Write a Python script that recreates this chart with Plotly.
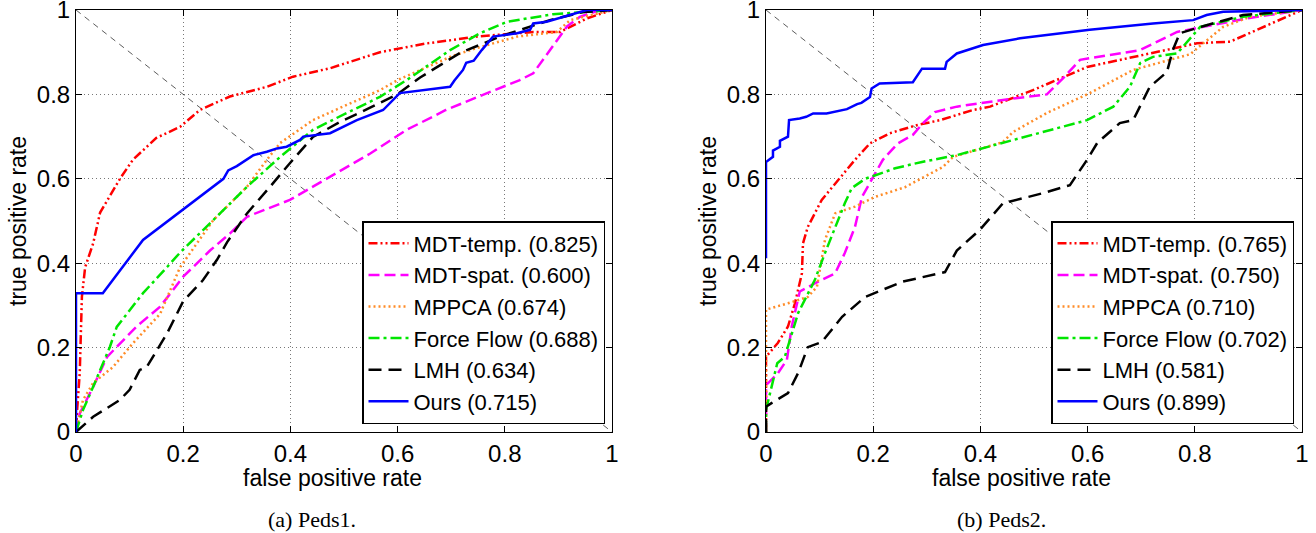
import plotly.graph_objects as go
from plotly.subplots import make_subplots

# ---- Peds1 (left) ----
p1_temp_x = [0, 0.002, 0.007, 0.011, 0.017, 0.032, 0.045, 0.065, 0.082, 0.106, 0.15, 0.194, 0.231, 0.287, 0.356, 0.405, 0.474, 0.567, 0.65, 0.748, 0.853, 0.903, 0.953, 1]
p1_temp_y = [0, 0.05, 0.14, 0.32, 0.39, 0.447, 0.52, 0.565, 0.6, 0.645, 0.697, 0.723, 0.763, 0.795, 0.818, 0.842, 0.862, 0.9, 0.92, 0.937, 0.948, 0.948, 0.98, 1]

p1_spat_x = [0, 0.007, 0.032, 0.058, 0.113, 0.157, 0.2, 0.25, 0.287, 0.319, 0.399, 0.474, 0.549, 0.617, 0.69, 0.767, 0.828, 0.853, 0.871, 0.897, 0.916, 0.94, 0.978, 1]
p1_spat_y = [0, 0.044, 0.107, 0.178, 0.25, 0.297, 0.368, 0.43, 0.47, 0.51, 0.55, 0.605, 0.66, 0.716, 0.763, 0.803, 0.834, 0.85, 0.882, 0.929, 0.961, 0.984, 1, 1]

p1_mppca_x = [0, 0.013, 0.032, 0.069, 0.106, 0.157, 0.194, 0.256, 0.319, 0.356, 0.381, 0.442, 0.505, 0.567, 0.6, 0.7, 0.748, 0.823, 0.897, 0.922, 1]
p1_mppca_y = [0, 0.076, 0.116, 0.154, 0.21, 0.28, 0.39, 0.502, 0.581, 0.645, 0.685, 0.739, 0.775, 0.81, 0.834, 0.89, 0.91, 0.937, 0.948, 0.976, 1]

p1_ff_x = [0, 0.013, 0.032, 0.063, 0.076, 0.125, 0.17, 0.194, 0.256, 0.319, 0.381, 0.442, 0.505, 0.567, 0.617, 0.698, 0.754, 0.804, 0.89, 1]
p1_ff_y = [0, 0.052, 0.107, 0.201, 0.249, 0.329, 0.391, 0.425, 0.502, 0.581, 0.652, 0.716, 0.756, 0.794, 0.834, 0.905, 0.945, 0.972, 0.99, 1]

p1_lmh_x = [0, 0.032, 0.082, 0.1, 0.119, 0.132, 0.17, 0.2, 0.237, 0.263, 0.282, 0.319, 0.362, 0.399, 0.442, 0.493, 0.543, 0.599, 0.642, 0.716, 0.791, 0.884, 0.946, 1]
p1_lmh_y = [0, 0.036, 0.076, 0.1, 0.147, 0.154, 0.234, 0.31, 0.36, 0.408, 0.45, 0.518, 0.581, 0.637, 0.699, 0.735, 0.765, 0.8, 0.84, 0.898, 0.937, 0.976, 0.995, 1]

p1_ours_x = [0, 0, 0.05, 0.125, 0.275, 0.284, 0.3, 0.331, 0.356, 0.375, 0.393, 0.418, 0.424, 0.474, 0.524, 0.573, 0.604, 0.698, 0.706, 0.722, 0.728, 0.742, 0.757, 0.778, 0.823, 0.847, 0.853, 0.878, 0.953, 1]
p1_ours_y = [0, 0.329, 0.329, 0.455, 0.6, 0.62, 0.63, 0.656, 0.664, 0.672, 0.676, 0.692, 0.7, 0.708, 0.739, 0.763, 0.803, 0.818, 0.833, 0.858, 0.875, 0.88, 0.905, 0.937, 0.945, 0.953, 0.968, 0.972, 1, 1]

# ---- Peds2 (right) ----
p2_temp_x = [0, 0, 0.022, 0.041, 0.054, 0.067, 0.069, 0.078, 0.104, 0.134, 0.166, 0.194, 0.231, 0.281, 0.325, 0.386, 0.418, 0.498, 0.599, 0.716, 0.804, 0.866, 0.916, 1]
p2_temp_y = [0, 0.178, 0.211, 0.25, 0.305, 0.376, 0.447, 0.486, 0.55, 0.597, 0.645, 0.684, 0.708, 0.727, 0.739, 0.763, 0.771, 0.81, 0.865, 0.897, 0.921, 0.925, 0.953, 1]

p2_spat_x = [0, 0, 0.022, 0.039, 0.048, 0.063, 0.091, 0.129, 0.147, 0.166, 0.179, 0.194, 0.218, 0.246, 0.274, 0.293, 0.315, 0.356, 0.442, 0.524, 0.554, 0.586, 0.698, 0.767, 0.897, 1]
p2_spat_y = [0, 0.111, 0.139, 0.171, 0.25, 0.333, 0.352, 0.376, 0.424, 0.486, 0.557, 0.59, 0.645, 0.684, 0.704, 0.732, 0.758, 0.771, 0.787, 0.8, 0.838, 0.882, 0.905, 0.948, 0.98, 1]

p2_mppca_x = [0, 0, 0.041, 0.078, 0.095, 0.11, 0.129, 0.166, 0.203, 0.259, 0.33, 0.349, 0.442, 0.461, 0.524, 0.604, 0.685, 0.791, 0.853, 0.903, 1]
p2_mppca_y = [0, 0.29, 0.305, 0.32, 0.344, 0.455, 0.518, 0.534, 0.557, 0.58, 0.628, 0.652, 0.687, 0.711, 0.756, 0.803, 0.858, 0.895, 0.96, 0.984, 1]

p2_ff_x = [0, 0, 0.021, 0.035, 0.06, 0.091, 0.11, 0.129, 0.147, 0.16, 0.185, 0.241, 0.291, 0.356, 0.442, 0.535, 0.599, 0.648, 0.679, 0.698, 0.722, 0.767, 0.81, 0.89, 1]
p2_ff_y = [0, 0.052, 0.163, 0.178, 0.282, 0.36, 0.424, 0.486, 0.542, 0.578, 0.6, 0.625, 0.64, 0.656, 0.685, 0.716, 0.739, 0.771, 0.818, 0.874, 0.889, 0.897, 0.96, 0.984, 1]

p2_lmh_x = [0, 0, 0.011, 0.041, 0.06, 0.078, 0.104, 0.142, 0.185, 0.216, 0.254, 0.334, 0.356, 0.399, 0.442, 0.517, 0.567, 0.599, 0.618, 0.66, 0.685, 0.716, 0.748, 0.759, 0.772, 0.822, 0.89, 1]
p2_lmh_y = [0, 0.06, 0.069, 0.092, 0.14, 0.201, 0.213, 0.273, 0.32, 0.336, 0.356, 0.379, 0.43, 0.479, 0.542, 0.566, 0.585, 0.645, 0.685, 0.732, 0.739, 0.818, 0.853, 0.905, 0.945, 0.964, 0.988, 1]

p2_ours_x = [0, 0, 0.013, 0.013, 0.026, 0.026, 0.041, 0.043, 0.063, 0.075, 0.088, 0.113, 0.151, 0.17, 0.178, 0.194, 0.197, 0.212, 0.274, 0.291, 0.334, 0.337, 0.356, 0.405, 0.474, 0.604, 0.722, 0.797, 0.822, 0.853, 1]
p2_ours_y = [0.412, 0.64, 0.652, 0.667, 0.676, 0.69, 0.7, 0.739, 0.743, 0.747, 0.755, 0.755, 0.765, 0.777, 0.78, 0.794, 0.814, 0.826, 0.829, 0.861, 0.861, 0.877, 0.897, 0.917, 0.933, 0.953, 0.968, 0.976, 0.988, 0.996, 1]

diag_x = [0, 1]
diag_y = [1, 0]

tick_vals = [0, 0.2, 0.4, 0.6, 0.8, 1]
tick_text = ['0', '0.2', '0.4', '0.6', '0.8', '1']

names1 = ['MDT-temp. (0.825)', 'MDT-spat. (0.600)', 'MPPCA (0.674)', 'Force Flow (0.688)', 'LMH (0.634)', 'Ours (0.715)']
names2 = ['MDT-temp. (0.765)', 'MDT-spat. (0.750)', 'MPPCA (0.710)', 'Force Flow (0.702)', 'LMH (0.581)', 'Ours (0.899)']

styles = [
    dict(color='#ff0000', dash='9px,3px,2px,3px,2px,3px', width=2.5),
    dict(color='#ff00ff', dash='11px,5px', width=2.5),
    dict(color='#ff8c28', dash='2px,3px', width=2.5),
    dict(color='#00e600', dash='11px,4px,3px,4px', width=2.5),
    dict(color='#000000', dash='13px,7px', width=2.5),
    dict(color='#0000ff', dash='solid', width=2.5),
]

series1 = [(p1_temp_x, p1_temp_y), (p1_spat_x, p1_spat_y), (p1_mppca_x, p1_mppca_y),
           (p1_ff_x, p1_ff_y), (p1_lmh_x, p1_lmh_y), (p1_ours_x, p1_ours_y)]
series2 = [(p2_temp_x, p2_temp_y), (p2_spat_x, p2_spat_y), (p2_mppca_x, p2_mppca_y),
           (p2_ff_x, p2_ff_y), (p2_lmh_x, p2_lmh_y), (p2_ours_x, p2_ours_y)]

W, H = 1316, 533
ML, MR, MT, MB = 76, 14, 10, 533 - 432
pw = W - ML - MR
ph = H - MT - MB


def px(x):
    return (x - ML) / pw


def py(y):
    return (H - MB - y) / ph


fig = make_subplots(rows=1, cols=2, horizontal_spacing=(766 - 612) / pw)

for col, series, names, leg in [(1, series1, names1, 'legend'), (2, series2, names2, 'legend2')]:
    fig.add_trace(go.Scatter(x=diag_x, y=diag_y, mode='lines', showlegend=False, hoverinfo='skip',
                             line=dict(color='#333333', width=0.8, dash='6px,5px')), row=1, col=col)
    for (xs, ys), name, st in zip(series, names, styles):
        fig.add_trace(go.Scatter(x=xs, y=ys, mode='lines', name=name, legend=leg, line=st),
                      row=1, col=col)

font = 'Liberation Sans, Arial, sans-serif'
axis_common = dict(range=[0, 1], tickvals=tick_vals, ticktext=tick_text, ticklabeloverflow='allow',
                   showline=True, linecolor='black', linewidth=1, mirror='ticks', ticks='inside', ticklen=6,
                   tickcolor='black', showgrid=True, gridcolor='#777777', griddash='1px,3px', gridwidth=1,
                   zeroline=False, tickfont=dict(size=24, color='black', family=font), automargin=False)

for c in (1, 2):
    fig.update_xaxes(axis_common, row=1, col=c)
    fig.update_yaxes(axis_common, row=1, col=c)

legend_common = dict(bgcolor='white', bordercolor='black', borderwidth=1.5, font=dict(size=22, color='black', family=font),
                     xanchor='right', yanchor='bottom', tracegroupgap=0, itemwidth=40)

fig.update_layout(
    width=W, height=H, margin=dict(l=ML, r=MR, t=MT, b=MB),
    plot_bgcolor='white', paper_bgcolor='white',
    legend=dict(legend_common, x=px(605), y=py(424)),
    legend2=dict(legend_common, x=px(1294), y=py(424)),
)

ann = []
for cx in (332, 1021):
    ann.append(dict(text='false positive rate', x=px(cx), y=py(478), xref='paper', yref='paper',
                    xanchor='center', yanchor='middle',
                    showarrow=False, font=dict(size=23, color='black', family=font)))
for cx in (18, 708):
    ann.append(dict(text='true positive rate', x=px(cx), y=py(221), xref='paper', yref='paper', textangle=-90,
                    xanchor='center', yanchor='middle',
                    showarrow=False, font=dict(size=23, color='black', family=font)))
for cx, t in ((312, '(a) Peds1.'), (1001, '(b) Peds2.')):
    ann.append(dict(text=t, x=px(cx), y=py(519), xref='paper', yref='paper', showarrow=False,
                    xanchor='center', yanchor='middle',
                    font=dict(size=22, color='black', family='Liberation Serif, Times New Roman, serif')))
fig.update_layout(annotations=ann)

fig.write_html("out.html", config={'displayModeBar': False},
               post_script="document.body.style.margin='0px';")
